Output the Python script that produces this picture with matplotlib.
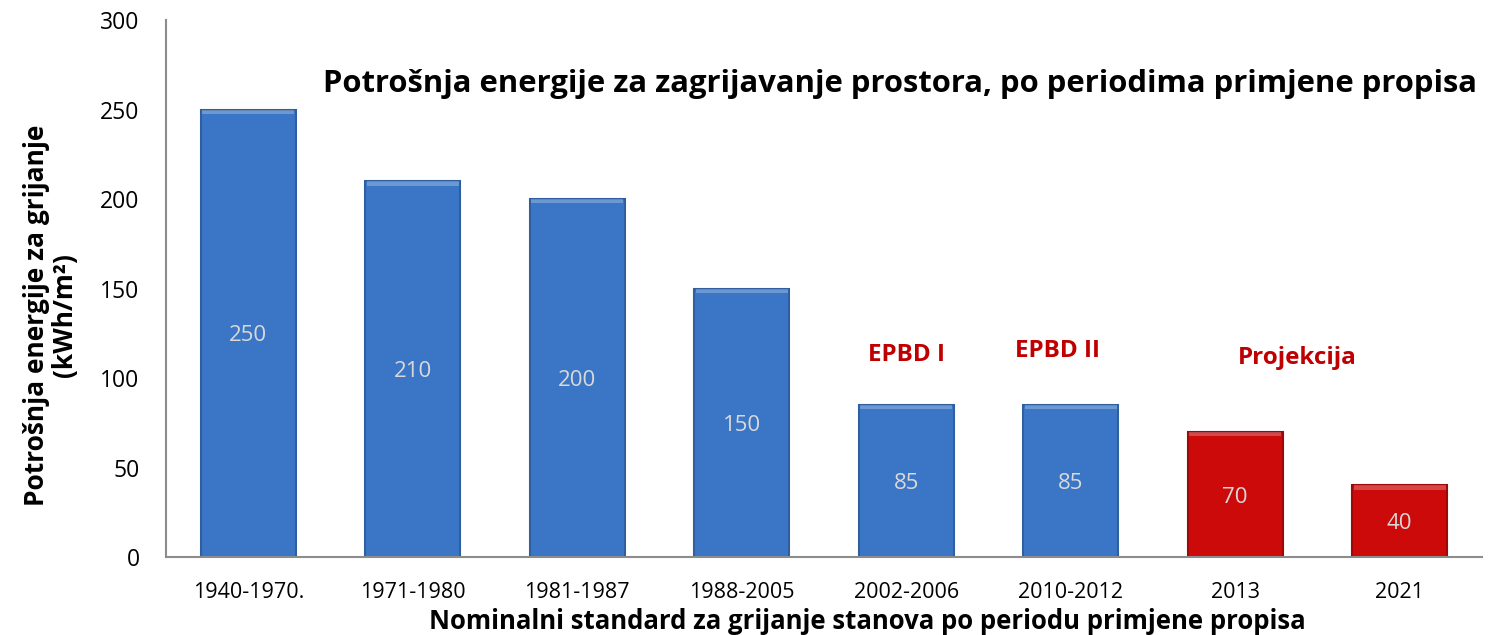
import matplotlib
matplotlib.use("Agg")
import matplotlib.pyplot as plt

categories = ["1940-1970.", "1971-1980", "1981-1987", "1988-2005",
              "2002-2006", "2010-2012", "2013", "2021"]
values = [250, 210, 200, 150, 85, 85, 70, 40]
bar_colors = ["#3b76c6"] * 6 + ["#cc0a0a"] * 2
edge_colors = ["#2f5f9f"] * 6 + ["#a00808"] * 2
annotations = [("EPBD I", 4.0, 113), ("EPBD II", 4.92, 115), ("Projekcija", 6.38, 111)]
yticks = [0, 50, 100, 150, 200, 250, 300]

plt.rcParams['font.family'] = ['Open Sans', 'DejaVu Sans']

fig = plt.figure(figsize=(14.93, 6.35), dpi=100)
ax = fig.add_axes([0.1112, 0.1228, 0.8814, 0.8457])

x = list(range(len(categories)))
bars = ax.bar(x, values, width=0.58, color=bar_colors, edgecolor=edge_colors, linewidth=1.5, zorder=2)
# light bevel strip on top
for xi, v, c in zip(x, values, bar_colors):
    ax.bar(xi, 2.5, bottom=v - 2.5, width=0.56, color="#ffffff", alpha=0.25, linewidth=0, zorder=3)

for xi, v in zip(x, values):
    ax.text(xi, v / 2 - 1.5, str(v), ha="center", va="center", color="#d9d9d9", fontsize=16, zorder=4)

for txt, xi, yv in annotations:
    ax.text(xi, yv, txt, ha="center", va="center", color="#c00000", fontsize=17.5, fontweight="bold")

ax.text(0.558, 0.881, "Potrošnja energije za zagrijavanje prostora, po periodima primjene propisa",
        transform=ax.transAxes, ha="center", va="center", fontsize=22.3, fontweight="bold", color="black")

ax.set_xlim(-0.5, len(categories) - 0.5)
ax.set_ylim(0, 300)
ax.set_yticks(yticks)
ax.set_xticks(x)
ax.set_xticklabels(categories, fontsize=15.5)
ax.tick_params(axis="both", length=0, labelsize=15.5, colors="black")
ax.tick_params(axis="y", labelsize=16.5, pad=19)
ax.tick_params(axis="x", pad=18)

for s in ["top", "right"]:
    ax.spines[s].set_visible(False)
for s in ["left", "bottom"]:
    ax.spines[s].set_color("#8c8c8c")
    ax.spines[s].set_linewidth(1.5)

ax.set_xlabel("Nominalni standard za grijanje stanova po periodu primjene propisa",
              fontsize=18.5, fontweight="bold", labelpad=-2)
ax.xaxis.set_label_coords(0.533, -0.095)
ax.set_ylabel("Potrošnja energije za grijanje\n(kWh/m²)", fontsize=19, fontweight="bold",
              labelpad=14, linespacing=1.05)
ax.yaxis.set_label_coords(-0.067, 0.45)

fig.savefig("out.png", dpi=100)
